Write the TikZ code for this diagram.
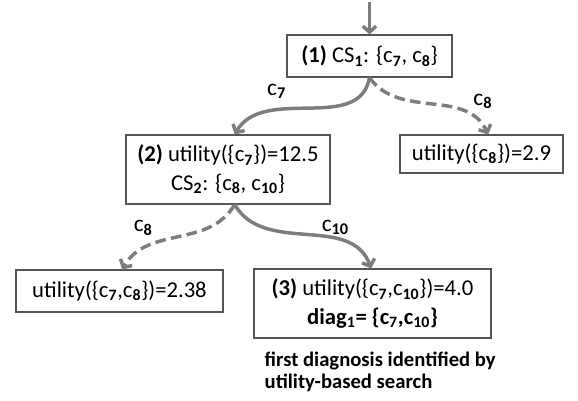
\documentclass[tikz,border=0pt]{standalone}
\usepackage{fontspec}
\setmainfont{Carlito}
\usetikzlibrary{arrows.meta}
\definecolor{arrowgray}{RGB}{125,125,125}
\definecolor{boxgray}{RGB}{85,85,85}
\newcommand{\sub}[1]{\textsubscript{\textbf{#1}}}
\begin{document}
\begin{tikzpicture}[x=0.75pt, y=-0.75pt, font=\fontsize{17}{21.5}\selectfont,
    state/.style={draw=boxgray, line width=0.8pt, align=center, inner sep=0pt},
    edge/.style={draw=arrowgray, line width=2.6pt, -{Straight Barb[length=4.5pt, width=10pt]}},
    choice/.style={font=\fontsize{17.5}{21.5}\selectfont, inner sep=0pt}]
    \useasboundingbox (0,0) rectangle (578,400);
        \coordinate (start) at (369.5,2);
        \node[state, minimum width=123.75pt, minimum height=31.5pt] (CS1) at (369.5,56) {\textbf{(1)} CS\sub{1}: \{c\sub{7}, c\sub{8}\}};
        \node[state, minimum width=153pt, minimum height=51.75pt] (CS2) at (228,169.5) {\textbf{(2)} utility(\{c\sub{7}\})=12.5\\CS\sub{2}: \{c\sub{8}, c\sub{10}\}};
        \node[state, minimum width=122.25pt, minimum height=28.5pt] (U8) at (481.5,154) {utility(\{c\sub{8}\})=2.9};
        \node[state, minimum width=155.25pt, minimum height=31.5pt] (U78) at (119.5,291) {utility(\{c\sub{7},c\sub{8}\})=2.38};
        \node[state, minimum width=177.75pt, minimum height=51.75pt] (D1) at (372.5,303.5) {\textbf{(3)} utility(\{c\sub{7},c\sub{10}\})=4.0\\\textbf{diag\sub{1}= \{c\sub{7},c\sub{10}\}}};
        \node[anchor=west, align=left, font=\bfseries\fontsize{15.5}{16.5}\selectfont] (note) at (260,372) {first diagnosis identified by\\utility-based search};
        \draw[edge] (start) -- (CS1.north);
        \draw[edge] (CS1.south) to[out=-100, in=60] node[choice, pos=0.5, above left, xshift=-16pt, yshift=6pt] {c\sub{7}} ([xshift=5pt]CS2.north);
        \draw[edge, dashed, dash pattern=on 8pt off 4pt] (CS1.south) to[out=-55, in=115] node[choice, pos=0.72, above right, xshift=8pt, yshift=0pt] {c\sub{8}} ([xshift=5pt]U8.north);
        \draw[edge, dashed, dash pattern=on 8pt off 4pt] ([xshift=5pt]CS2.south) to[out=-120, in=60] node[choice, pos=0.5, above left, xshift=-18pt, yshift=0pt] {c\sub{8}} ([xshift=2pt]U78.north);
        \draw[edge] ([xshift=5pt]CS2.south) to[out=-60, in=110] node[choice, pos=0.68, above, yshift=2pt] {c\sub{10}} ([xshift=-1pt]D1.north);
\end{tikzpicture}
\end{document}
